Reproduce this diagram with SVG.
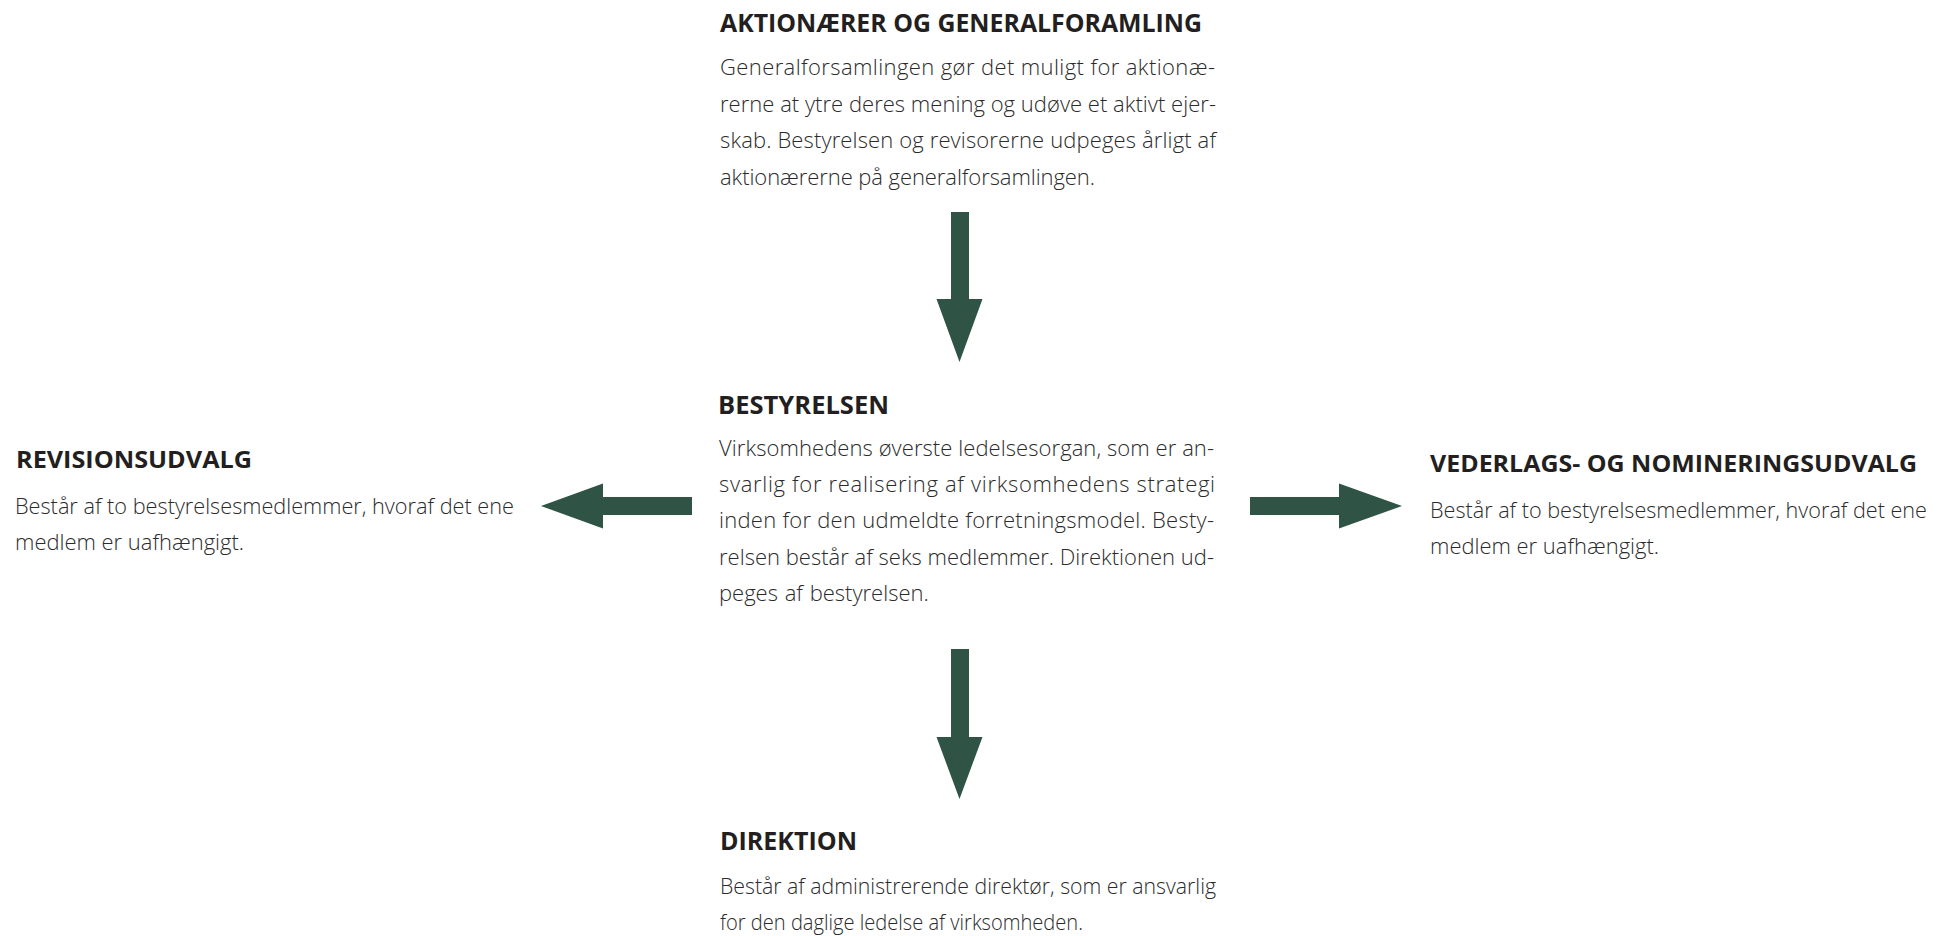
<svg xmlns="http://www.w3.org/2000/svg" width="1950" height="936" viewBox="0 0 1950 936">
<style>
.t{font-family:"Open Sans","Noto Sans","Liberation Sans",sans-serif;font-weight:700;fill:#231f20;font-size:25.5px}
.ts{font-family:"Open Sans","Noto Sans","Liberation Sans",sans-serif;font-weight:700;fill:#231f20;font-size:24px}
.b{font-family:"Open Sans","Noto Sans","Liberation Sans",sans-serif;font-weight:300;fill:#2b2b2b;font-size:22px}
.arrow{fill:#2f5344}
</style>
<rect width="1950" height="936" fill="#ffffff"/>
<g id="aktionaerer">
<text class="t" x="720" y="32" textLength="482" lengthAdjust="spacingAndGlyphs">AKTIONÆRER OG GENERALFORAMLING</text>
<text class="b" x="720" y="75" textLength="495" lengthAdjust="spacing">Generalforsamlingen gør det muligt for aktionæ-</text>
<text class="b" x="720" y="111.7" textLength="496" lengthAdjust="spacing">rerne at ytre deres mening og udøve et aktivt ejer-</text>
<text class="b" x="720" y="148.3" textLength="496" lengthAdjust="spacing">skab. Bestyrelsen og revisorerne udpeges årligt af</text>
<text class="b" x="720" y="185" textLength="375" lengthAdjust="spacing">aktionærerne på generalforsamlingen.</text>
</g>
<g id="bestyrelsen">
<text class="t" x="718" y="414" textLength="171" lengthAdjust="spacingAndGlyphs">BESTYRELSEN</text>
<text class="b" x="719" y="456" textLength="495" lengthAdjust="spacing">Virksomhedens øverste ledelsesorgan, som er an-</text>
<text class="b" x="719" y="492" textLength="496" lengthAdjust="spacing">svarlig for realisering af virksomhedens strategi</text>
<text class="b" x="719" y="528.3" textLength="495" lengthAdjust="spacing">inden for den udmeldte forretningsmodel. Besty-</text>
<text class="b" x="719" y="564.5" textLength="495" lengthAdjust="spacing">relsen består af seks medlemmer. Direktionen ud-</text>
<text class="b" x="719" y="600.7" word-spacing="1">peges af bestyrelsen.</text>
</g>
<g id="revisionsudvalg">
<text class="ts" x="16" y="468" textLength="236" lengthAdjust="spacingAndGlyphs">REVISIONSUDVALG</text>
<text class="b" x="15" y="514" textLength="499" lengthAdjust="spacingAndGlyphs">Består af to bestyrelsesmedlemmer, hvoraf det ene</text>
<text class="b" x="15" y="550" textLength="229" lengthAdjust="spacingAndGlyphs">medlem er uafhængigt.</text>
</g>
<g id="vederlagsudvalg">
<text class="ts" x="1430" y="472" textLength="487" lengthAdjust="spacingAndGlyphs">VEDERLAGS- OG NOMINERINGSUDVALG</text>
<text class="b" x="1430" y="517.7" textLength="497" lengthAdjust="spacingAndGlyphs">Består af to bestyrelsesmedlemmer, hvoraf det ene</text>
<text class="b" x="1430" y="554" textLength="229" lengthAdjust="spacingAndGlyphs">medlem er uafhængigt.</text>
</g>
<g id="direktion">
<text class="t" x="720" y="850" textLength="137" lengthAdjust="spacingAndGlyphs">DIREKTION</text>
<text class="b" x="720" y="894" textLength="496" lengthAdjust="spacingAndGlyphs">Består af administrerende direktør, som er ansvarlig</text>
<text class="b" x="720" y="930" textLength="363" lengthAdjust="spacingAndGlyphs">for den daglige ledelse af virksomheden.</text>
</g>
<g id="connectors">
<polygon class="arrow" points="951,212 969,212 969,299 982.5,299 959.5,362 936.5,299 951,299"/>
<polygon class="arrow" points="951,649 969,649 969,737 982.5,737 959.5,799 936.5,737 951,737"/>
<polygon class="arrow" points="692,497 692,515 603,515 603,528.5 541,506 603,483.5 603,497"/>
<polygon class="arrow" points="1250,497 1250,515 1339,515 1339,528.5 1402,506 1339,483.5 1339,497"/>
</g>
</svg>
